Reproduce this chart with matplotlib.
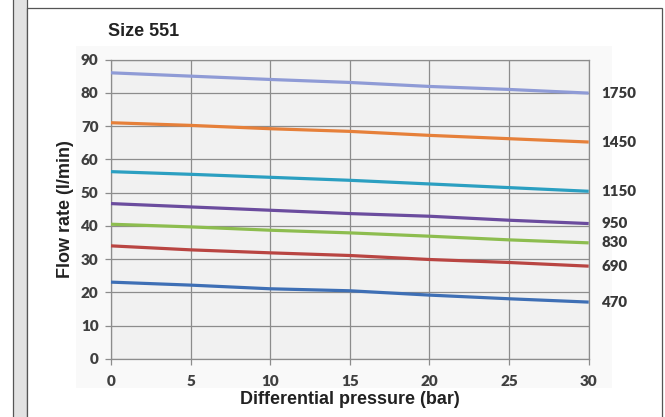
import matplotlib
matplotlib.use("Agg")
import matplotlib.pyplot as plt
from matplotlib.patches import Rectangle

pressure = [0, 5, 10, 15, 20, 25, 30]
speeds = ["1750", "1450", "1150", "950", "830", "690", "470"]
flow_1750 = [86.0, 85.0, 84.0, 83.1, 81.9, 81.0, 79.9]
flow_1450 = [71.0, 70.2, 69.2, 68.4, 67.2, 66.2, 65.2]
flow_1150 = [56.3, 55.5, 54.6, 53.7, 52.6, 51.5, 50.4]
flow_950 = [46.7, 45.7, 44.7, 43.7, 42.9, 41.7, 40.7]
flow_830 = [40.5, 39.7, 38.7, 37.9, 36.9, 35.8, 34.9]
flow_690 = [34.0, 32.8, 31.9, 31.1, 29.9, 29.0, 27.9]
flow_470 = [23.1, 22.2, 21.1, 20.5, 19.2, 18.1, 17.1]
series = [flow_1750, flow_1450, flow_1150, flow_950, flow_830, flow_690, flow_470]
colors = ["#8f9bd6", "#e6803a", "#2b9fc1", "#6b4c9e", "#8dbd4f", "#b94542", "#3e6fb5"]
xticks = [0, 5, 10, 15, 20, 25, 30]
yticks = [0, 10, 20, 30, 40, 50, 60, 70, 80, 90]

W, H = 665, 417
fig = plt.figure(figsize=(W / 100, H / 100), dpi=100)
fig.patch.set_facecolor("white")

def fx(px):
    return px / W

def fy(py):
    return 1 - py / H

# left gray strip and panel frame
fig.patches.append(Rectangle((fx(12.5), fy(425)), fx(14.5), fy(-8) - fy(425), transform=fig.transFigure,
                             facecolor="#e2e2e2", edgecolor="#555555", lw=0.9, zorder=0))
fig.patches.append(Rectangle((fx(27), fy(425)), fx(662 - 27), fy(7.5) - fy(425),
                             transform=fig.transFigure, facecolor="white",
                             edgecolor="#555555", lw=0.9, zorder=0))
# faint chart-area background
fig.patches.append(Rectangle((fx(76), fy(388)), fx(612 - 76), fy(46) - fy(388),
                             transform=fig.transFigure, facecolor="#f9f9f9",
                             edgecolor="none", zorder=0))

ax = fig.add_axes([fx(111), fy(359), fx(588.7 - 111), fy(59.5) - fy(359)])
ax.set_zorder(2)
ax.set_facecolor("#f1f1f1")
ax.set_xlim(0, 30)
ax.set_ylim(0, 90)
tick_font = dict(family="Lato", weight="heavy", size=11, color="#404040")
ax.set_xticks(xticks)
ax.set_xticklabels([str(v) for v in xticks], fontdict=tick_font)
ax.set_yticks(yticks)
ax.set_yticklabels([str(v) for v in yticks], fontdict=tick_font)
ax.grid(True, color="#8c8c8c", lw=0.9)
ax.set_axisbelow(True)
for s in ax.spines.values():
    s.set_color("#8c8c8c")
    s.set_linewidth(0.9)
ax.tick_params(axis="both", color="#8c8c8c", length=4, width=0.9)
ax.tick_params(axis="x", pad=7.5)
ax.tick_params(axis="y", pad=5)

for vals, c, name in zip(series, colors, speeds):
    ax.plot(pressure, vals, color=c, lw=2.3, solid_capstyle="butt", zorder=3, clip_on=False)
    ax.annotate(name, xy=(pressure[-1], vals[-1]), xytext=(9, 0),
                textcoords="offset points", va="center", ha="left",
                fontsize=10.8, family="Lato", fontweight="heavy", color="#383838",
                annotation_clip=False)

ax.set_xlabel("Differential pressure (bar)", fontsize=13, fontweight="bold",
              family="Liberation Sans", color="#222222", labelpad=2)
ax.set_ylabel("Flow rate (l/min)", fontsize=13, fontweight="bold",
              family="Liberation Sans", color="#222222", labelpad=5)
fig.text(fx(108), fy(31), "Size 551", fontsize=13, fontweight="bold",
         family="Liberation Sans", color="#222222", va="center", ha="left")

fig.savefig("out.png", dpi=100)
